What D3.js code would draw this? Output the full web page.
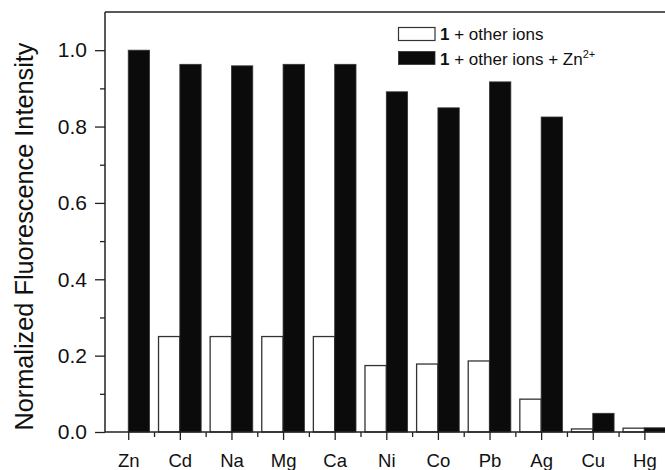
<!DOCTYPE html>
<html>
<head>
<meta charset="utf-8">
<script src="https://cdn.jsdelivr.net/npm/d3@7"></script>
<style>
  html, body { margin: 0; padding: 0; background: #fff; }
  svg { display: block; font-family: "Liberation Sans", Arial, Helvetica, sans-serif; }
</style>
</head>
<body>
<svg id="chart" width="665" height="470"></svg>
<script>
const categories = ["Zn", "Cd", "Na", "Mg", "Ca", "Ni", "Co", "Pb", "Ag", "Cu", "Hg"];
const otherIons = [0, 0.25, 0.25, 0.25, 0.25, 0.174, 0.178, 0.186, 0.086, 0.008, 0.010];
const otherIonsZn = [1.0, 0.963, 0.959, 0.963, 0.963, 0.891, 0.849, 0.917, 0.825, 0.049, 0.011];
const yMajorTicks = [0, 0.2, 0.4, 0.6, 0.8, 1.0];
const yMinorTicks = [0.1, 0.3, 0.5, 0.7, 0.9];

const svg = d3.select("#chart");
const axisColor = "#222";

const x = d3.scaleLinear().domain([-0.45, 10.45]).range([105, 667.6]);
const y = d3.scaleLinear().domain([0, 1.1]).range([432, 12]);
const barW = 0.413;

// bars: white (1 + other ions) left of tick, black (+Zn2+) right of tick
svg.append("g").selectAll("rect").data(categories).join("rect")
  .attr("x", (d, i) => x(i - barW))
  .attr("y", (d, i) => y(otherIons[i]))
  .attr("width", (d, i) => x(i) - x(i - barW))
  .attr("height", (d, i) => y(0) - y(otherIons[i]))
  .attr("fill", "#fff").attr("stroke", "#333").attr("stroke-width", 1.3);

svg.append("g").selectAll("rect").data(categories).join("rect")
  .attr("x", (d, i) => x(i))
  .attr("y", (d, i) => y(otherIonsZn[i]))
  .attr("width", (d, i) => x(i + barW) - x(i))
  .attr("height", (d, i) => y(0) - y(otherIonsZn[i]))
  .attr("fill", "#0b0b0b").attr("stroke", "#333").attr("stroke-width", 0.8);

// top frame line
svg.append("line").attr("x1", 105).attr("x2", 665).attr("y1", y(1.1)).attr("y2", y(1.1))
  .attr("stroke", axisColor).attr("stroke-width", 1.5);

// Y axis
const yAxis = d3.axisLeft(y).tickValues(yMajorTicks).tickFormat(d3.format(".1f"))
  .tickSize(10).tickPadding(8);
const gy = svg.append("g").attr("transform", "translate(105,0)").call(yAxis);
gy.select(".domain").attr("stroke", axisColor).attr("stroke-width", 1.5)
  .attr("d", `M0,${y(0)}V${y(1.1)}`);
gy.selectAll(".tick line").attr("stroke", axisColor).attr("stroke-width", 1.3);
gy.selectAll(".tick text").attr("fill", "#111").style("font-size", "21px")
  .style("font-family", "'Liberation Sans', Arial, sans-serif");
const gyMinor = svg.append("g").attr("transform", "translate(105,0)")
  .call(d3.axisLeft(y).tickValues(yMinorTicks).tickSize(5).tickFormat(""));
gyMinor.select(".domain").remove();
gyMinor.selectAll(".tick line").attr("stroke", axisColor).attr("stroke-width", 1.3);

// X axis
const xAxis = d3.axisBottom(x).tickValues(d3.range(categories.length))
  .tickFormat(i => categories[i]).tickSize(8).tickPadding(14);
const gx = svg.append("g").attr("transform", `translate(0,${y(0)})`).call(xAxis);
gx.select(".domain").attr("stroke", axisColor).attr("stroke-width", 1.5)
  .attr("d", `M105,0H665`);
gx.selectAll(".tick line").attr("stroke", axisColor).attr("stroke-width", 1.3);
gx.selectAll(".tick text").attr("fill", "#111").style("font-size", "18.5px")
  .style("font-family", "'Liberation Sans', Arial, sans-serif");
const gxMinor = svg.append("g").attr("transform", `translate(0,${y(0)})`)
  .call(d3.axisBottom(x).tickValues(d3.range(categories.length - 1).map(i => i + 0.5))
    .tickSize(5).tickFormat(""));
gxMinor.select(".domain").remove();
gxMinor.selectAll(".tick line").attr("stroke", axisColor).attr("stroke-width", 1.3);

// Y label
svg.append("text")
  .attr("transform", `translate(33,${(40 + 433) / 2}) rotate(-90)`)
  .attr("text-anchor", "middle")
  .attr("fill", "#111")
  .style("font-size", "25.3px")
  .text("Normalized Fluorescence Intensity");

// Legend
const legend = svg.append("g");
legend.append("rect").attr("x", 398.5).attr("y", 27.5).attr("width", 36.5).attr("height", 13)
  .attr("fill", "#fff").attr("stroke", "#333").attr("stroke-width", 1.2);
legend.append("rect").attr("x", 398.5).attr("y", 51.5).attr("width", 36.5).attr("height", 13)
  .attr("fill", "#0b0b0b").attr("stroke", "#333").attr("stroke-width", 0.8);
const t1 = legend.append("text").attr("x", 440).attr("y", 40).attr("fill", "#111").style("font-size", "17px");
t1.append("tspan").attr("font-weight", "bold").text("1");
t1.append("tspan").text(" + other ions");
const t2 = legend.append("text").attr("x", 440).attr("y", 64.5).attr("fill", "#111").style("font-size", "17px");
t2.append("tspan").attr("font-weight", "bold").text("1");
t2.append("tspan").text(" + other ions + Zn");
t2.append("tspan").attr("dy", -7).style("font-size", "11px").text("2+");
</script>
</body>
</html>
